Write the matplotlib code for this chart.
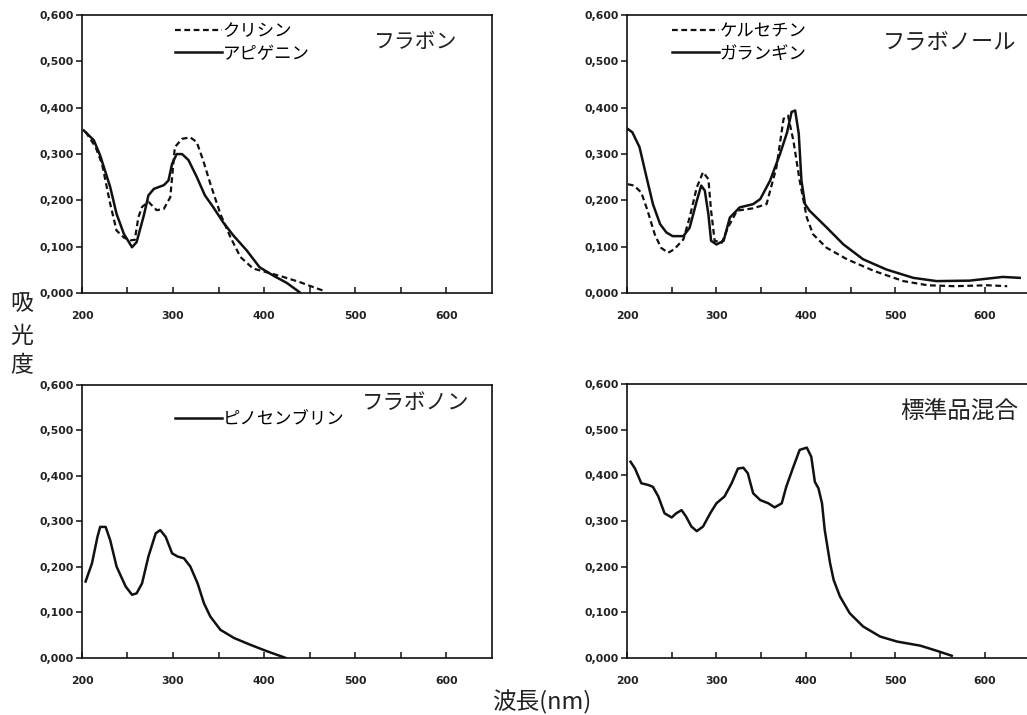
import numpy as np
import matplotlib
matplotlib.use("Agg")
import matplotlib.pyplot as plt

plt.rcParams['font.family'] = ['Noto Sans CJK JP', 'DejaVu Sans']

# ---- data (wavelength nm, absorbance) ----
# flavones
apigenin_x = [202, 213, 220, 231, 238, 246, 255, 260, 268, 273, 279, 290, 295, 299, 304, 310,
              317, 326, 335, 344, 355, 366, 381, 395, 410, 425, 439]
apigenin_y = [0.351, 0.330, 0.297, 0.229, 0.171, 0.128, 0.099, 0.110, 0.168, 0.211, 0.225, 0.233,
              0.243, 0.279, 0.300, 0.300, 0.287, 0.251, 0.211, 0.186, 0.153, 0.125, 0.092, 0.056,
              0.038, 0.022, 0.002]
chrysin_x = [204, 215, 222, 231, 238, 246, 253, 258, 262, 266, 273, 282, 290, 297, 302, 310,
             319, 326, 333, 341, 352, 363, 374, 388, 403, 421, 439, 454, 467]
chrysin_y = [0.348, 0.315, 0.279, 0.193, 0.135, 0.120, 0.114, 0.115, 0.164, 0.186, 0.197, 0.179,
             0.182, 0.207, 0.315, 0.333, 0.336, 0.326, 0.287, 0.236, 0.171, 0.121, 0.078, 0.053,
             0.045, 0.035, 0.024, 0.013, 0.004]

# flavonols
galangin_x = [201, 206, 214, 221, 229, 237, 244, 251, 263, 270, 278, 283, 287, 291, 294, 300,
              308, 315, 326, 341, 349, 360, 371, 379, 384, 388, 392, 395, 399, 404, 423, 442,
              464, 490, 520, 546, 583, 620, 639]
galangin_y = [0.354, 0.347, 0.315, 0.257, 0.192, 0.149, 0.131, 0.123, 0.123, 0.141, 0.199, 0.232,
              0.221, 0.170, 0.113, 0.105, 0.113, 0.163, 0.185, 0.192, 0.203, 0.243, 0.300, 0.347,
              0.391, 0.394, 0.344, 0.243, 0.192, 0.178, 0.142, 0.105, 0.073, 0.051, 0.033, 0.026,
              0.027, 0.035, 0.033]
quercetin_x = [201, 208, 216, 223, 231, 238, 246, 253, 263, 270, 278, 285, 291, 294, 298, 306,
               313, 323, 341, 356, 367, 375, 380, 386, 393, 401, 408, 423, 446, 476, 509, 536,
               566, 603, 625]
quercetin_y = [0.235, 0.232, 0.217, 0.178, 0.127, 0.098, 0.087, 0.095, 0.116, 0.163, 0.228, 0.261,
               0.246, 0.178, 0.113, 0.109, 0.142, 0.178, 0.183, 0.192, 0.271, 0.376, 0.383, 0.329,
               0.243, 0.163, 0.127, 0.098, 0.073, 0.048, 0.026, 0.017, 0.015, 0.017, 0.015]

# flavanone
pinocembrin_x = [204, 211, 217, 220, 226, 231, 238, 248, 255, 260, 266, 273, 281, 286, 292, 299,
                 305, 312, 319, 327, 334, 341, 352, 367, 385, 403, 424]
pinocembrin_y = [0.168, 0.208, 0.266, 0.288, 0.288, 0.259, 0.201, 0.157, 0.139, 0.142, 0.164,
                 0.223, 0.274, 0.281, 0.266, 0.230, 0.223, 0.219, 0.201, 0.164, 0.120, 0.091,
                 0.062, 0.044, 0.029, 0.015, 0.0]

# standard mixture
mix_x = [204, 209, 216, 224, 229, 235, 242, 250, 255, 261, 266, 272, 278, 285, 293, 300, 309,
         317, 324, 330, 335, 341, 349, 358, 365, 373, 378, 386, 393, 401, 406, 410, 414, 418,
         421, 427, 431, 438, 449, 464, 483, 502, 528, 546, 563]
mix_y = [0.430, 0.415, 0.383, 0.379, 0.375, 0.354, 0.317, 0.308, 0.317, 0.324, 0.310, 0.288,
         0.278, 0.288, 0.317, 0.339, 0.354, 0.383, 0.415, 0.417, 0.405, 0.361, 0.346, 0.339,
         0.330, 0.339, 0.375, 0.419, 0.456, 0.461, 0.441, 0.386, 0.372, 0.339, 0.281, 0.208,
         0.171, 0.135, 0.098, 0.069, 0.047, 0.036, 0.027, 0.016, 0.005]

xticks = [200, 300, 400, 500, 600]
xminor = [250, 350, 450, 550]
yticks = [0.0, 0.1, 0.2, 0.3, 0.4, 0.5, 0.6]
ytick_labels = ['0,000', '0,100', '0,200', '0,300', '0,400', '0,500', '0,600']

ink = '#111111'
txt = '#222222'
dash = (0, (2.6, 1.6))
jp = ['Noto Sans CJK JP', 'DejaVu Sans']

fig = plt.figure(figsize=(10.27, 7.15), dpi=100)

ax_tl = fig.add_axes([0.0798, 0.590, 0.399, 0.389])
ax_tr = fig.add_axes([0.6105, 0.590, 0.392, 0.389])
ax_bl = fig.add_axes([0.0798, 0.0797, 0.399, 0.382])
ax_br = fig.add_axes([0.6105, 0.0797, 0.392, 0.383])

for ax in (ax_tl, ax_tr, ax_bl, ax_br):
    ax.set_xlim(200, 650)
    ax.set_ylim(0, 0.6)
    ax.set_xticks(xticks)
    ax.set_xticks(xminor, minor=True)
    ax.set_yticks(yticks)
    ax.set_yticklabels(ytick_labels)
    ax.tick_params(axis='x', which='both', direction='in', length=4, width=1.1,
                   pad=13, color=ink)
    ax.tick_params(axis='y', direction='out', length=4, width=1.1, pad=2, color=ink)
    for lab in ax.get_xticklabels() + ax.get_yticklabels():
        lab.set_fontfamily('DejaVu Sans')
        lab.set_fontweight('bold')
        lab.set_fontsize(7.8)
        lab.set_color(txt)
    for sp in ax.spines.values():
        sp.set_linewidth(1.2)
        sp.set_color(ink)

# flavone panel
ax_tl.plot(chrysin_x, chrysin_y, color=ink, lw=1.6, linestyle=dash, label='クリシン')
ax_tl.plot(apigenin_x, apigenin_y, color=ink, lw=1.8, label='アピゲニン')
ax_tl.text(566, 0.542, 'フラボン', fontsize=15, family=jp, ha='center', va='center', color=txt)

# flavonol panel
ax_tr.plot(quercetin_x, quercetin_y, color=ink, lw=1.6, linestyle=dash, label='ケルセチン')
ax_tr.plot(galangin_x, galangin_y, color=ink, lw=1.8, label='ガランギン')
ax_tr.text(560, 0.540, 'フラボノール', fontsize=16, family=jp, ha='center', va='center', color=txt)

# flavanone panel
ax_bl.plot(pinocembrin_x, pinocembrin_y, color=ink, lw=1.8, label='ピノセンブリン')
ax_bl.text(566, 0.560, 'フラボノン', fontsize=15.5, family=jp, ha='center', va='center', color=txt)

# mixture panel
ax_br.plot(mix_x, mix_y, color=ink, lw=1.8)
ax_br.text(572, 0.539, '標準品混合', fontsize=17, family=jp, ha='center', va='center', color=txt)

legend_pos = {ax_tl: (0.1704, 0.969), ax_tr: (0.6543, 0.969), ax_bl: (0.1704, 0.4266)}
for ax, pos in legend_pos.items():
    ax.legend(loc='upper left', bbox_to_anchor=pos, bbox_transform=fig.transFigure,
              frameon=False, borderpad=0, borderaxespad=0, handlelength=2.7,
              handletextpad=0.05, labelspacing=0.25,
              prop={'family': jp, 'size': 12.5})

# shared axis titles
for ch, yy in zip('吸光度', [0.576, 0.530, 0.489]):
    fig.text(0.021, yy, ch, fontsize=16.5, family=jp, ha='center', va='center', color=txt)
fig.text(0.527, 0.018, '波長(nm)', fontsize=17, family=jp, ha='center', va='center', color=txt)

fig.savefig('out.png', dpi=100, facecolor='white')
